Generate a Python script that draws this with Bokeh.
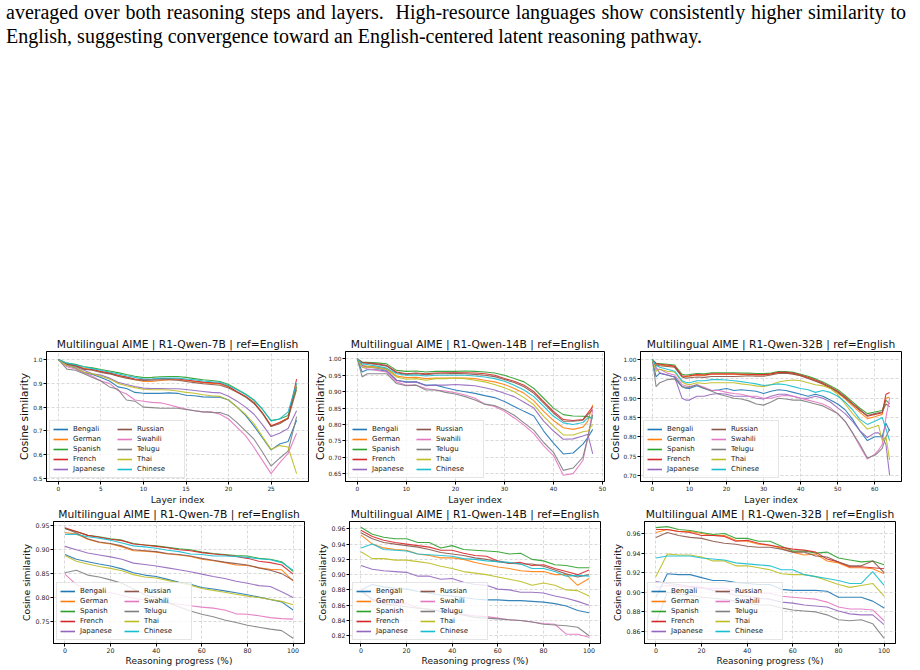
from bokeh.plotting import figure
from bokeh.layouts import column, row
from bokeh.models import (Div, Spacer, Legend, LegendItem, Range1d,
                          FixedTicker, PrintfTickFormatter)
from bokeh.embed import file_html
from bokeh.resources import INLINE

LANGS = ["Bengali", "German", "Spanish", "French", "Japanese",
         "Russian", "Swahili", "Telugu", "Thai", "Chinese"]
COLORS = ["#1f77b4", "#ff7f0e", "#2ca02c", "#d62728", "#9467bd",
          "#8c564b", "#e377c2", "#7f7f7f", "#bcbd22", "#17becf"]

# ---------------- R1-Qwen-7B, per layer ----------------
layers_7b = list(range(29))
layer_7b = {
    "Bengali":  [1.0, .975, .965, .945, .937, .925, .91, .885, .878, .862, .858, .858, .858, .86, .858, .85, .848, .843, .842, .842, .83, .8, .765, .72, .67, .62, .645, .655, .745],
    "German":   [1.0, .982, .976, .963, .958, .95, .944, .934, .925, .915, .908, .908, .912, .915, .915, .912, .908, .903, .9, .897, .885, .865, .845, .82, .775, .722, .735, .755, .895],
    "Spanish":  [1.0, .985, .98, .97, .965, .958, .952, .945, .937, .93, .924, .925, .928, .929, .929, .925, .92, .915, .912, .908, .895, .875, .855, .83, .79, .743, .75, .765, .885],
    "French":   [1.0, .98, .975, .96, .958, .95, .943, .933, .927, .918, .915, .917, .92, .92, .918, .914, .91, .905, .903, .9, .887, .865, .845, .818, .775, .72, .735, .752, .918],
    "Japanese": [1.0, .975, .97, .955, .94, .935, .922, .905, .895, .887, .88, .878, .878, .877, .877, .874, .87, .866, .862, .86, .846, .825, .8, .77, .725, .676, .69, .71, .785],
    "Russian":  [1.0, .98, .973, .96, .955, .946, .94, .93, .922, .915, .912, .913, .915, .915, .913, .908, .903, .898, .895, .892, .88, .862, .842, .815, .772, .718, .73, .752, .875],
    "Swahili":  [1.0, .97, .96, .945, .93, .91, .9, .87, .855, .83, .825, .82, .818, .81, .8, .792, .785, .78, .78, .77, .75, .715, .68, .63, .575, .52, .565, .605, .69],
    "Telugu":   [1.0, .96, .955, .94, .925, .91, .885, .875, .83, .825, .8, .798, .795, .795, .795, .79, .785, .78, .778, .777, .765, .735, .7, .665, .61, .552, .585, .615, .76],
    "Thai":     [1.0, .975, .967, .948, .94, .93, .918, .9, .89, .882, .875, .873, .873, .872, .868, .862, .858, .852, .848, .845, .83, .8, .77, .73, .675, .622, .638, .632, .52],
    "Chinese":  [1.0, .985, .978, .97, .962, .955, .948, .94, .932, .925, .918, .918, .922, .922, .922, .918, .915, .91, .907, .905, .89, .873, .853, .828, .79, .742, .75, .78, .9],
}

# ---------------- R1-Qwen-14B, per layer ----------------
layers_14b = [0, 1, 2, 4, 6, 8, 10, 12, 14, 16, 18, 20, 22, 24, 26, 28, 30,
              32, 34, 36, 38, 40, 42, 44, 46, 47, 48]
layer_14b = {
    "Bengali":  [1.0, .96, .967, .967, .962, .935, .93, .93, .92, .92, .912, .905, .9, .895, .888, .882, .87, .855, .84, .826, .78, .743, .71, .713, .74, .76, .785],
    "German":   [1.0, .98, .978, .975, .97, .948, .943, .944, .94, .942, .942, .942, .942, .94, .935, .93, .922, .91, .895, .872, .84, .812, .79, .785, .792, .81, .86],
    "Spanish":  [1.0, .99, .99, .988, .985, .965, .962, .963, .96, .962, .962, .962, .963, .962, .96, .957, .95, .94, .93, .91, .88, .85, .83, .826, .825, .824, .82],
    "French":   [1.0, .99, .988, .985, .98, .96, .955, .957, .955, .957, .958, .958, .958, .957, .955, .95, .94, .932, .92, .9, .87, .84, .815, .812, .815, .835, .855],
    "Japanese": [1.0, .98, .975, .972, .965, .935, .928, .93, .918, .92, .92, .922, .92, .918, .912, .905, .895, .885, .868, .85, .81, .78, .755, .756, .765, .77, .71],
    "Russian":  [1.0, .988, .987, .983, .978, .958, .953, .955, .952, .955, .955, .956, .955, .953, .95, .946, .937, .928, .915, .895, .865, .835, .81, .81, .813, .83, .845],
    "Swahili":  [1.0, .975, .97, .965, .96, .93, .92, .92, .91, .905, .902, .897, .89, .88, .862, .855, .84, .82, .798, .772, .735, .705, .645, .65, .69, .76, .845],
    "Telugu":   [1.0, .945, .955, .955, .955, .925, .918, .92, .905, .905, .898, .893, .885, .875, .862, .858, .845, .828, .805, .782, .745, .715, .66, .667, .7, .76, .83],
    "Thai":     [1.0, .975, .975, .973, .968, .945, .938, .94, .935, .94, .94, .942, .94, .935, .93, .922, .912, .9, .882, .86, .825, .795, .768, .768, .778, .78, .8],
    "Chinese":  [1.0, .985, .983, .978, .972, .955, .95, .951, .948, .95, .95, .95, .95, .948, .945, .94, .932, .92, .905, .885, .855, .825, .805, .8, .806, .82, .82],
}

# ---------------- R1-Qwen-32B, per layer ----------------
layers_32b = [0, 1, 2, 4, 6, 8, 9, 10, 12, 14, 16, 18, 20, 22, 24, 26, 28, 30,
              32, 34, 36, 38, 40, 42, 44, 46, 48, 50, 52, 54, 56, 58, 60, 61,
              62, 63, 64]
layer_32b = {
    "Bengali":  [1.0, .955, .965, .96, .955, .93, .926, .925, .932, .925, .92, .922, .925, .92, .922, .92, .918, .912, .918, .922, .92, .915, .91, .905, .91, .905, .895, .885, .87, .845, .815, .79, .8, .8, .8, .835, .815],
    "German":   [1.0, .988, .986, .984, .982, .957, .956, .957, .96, .959, .962, .962, .962, .962, .961, .961, .96, .96, .962, .966, .966, .963, .958, .952, .945, .936, .926, .914, .898, .88, .863, .847, .852, .855, .858, .9, .903],
    "Spanish":  [1.0, .99, .99, .988, .986, .962, .96, .961, .964, .963, .966, .966, .966, .966, .965, .965, .964, .964, .965, .969, .969, .967, .962, .957, .95, .942, .932, .922, .907, .89, .874, .86, .864, .866, .868, .895, .885],
    "French":   [1.0, .99, .988, .986, .983, .958, .957, .958, .961, .96, .963, .963, .963, .963, .962, .962, .961, .961, .963, .967, .967, .965, .96, .954, .947, .939, .929, .918, .903, .886, .87, .853, .858, .86, .862, .91, .915],
    "Japanese": [1.0, .98, .965, .96, .955, .9, .895, .895, .905, .905, .91, .912, .91, .905, .905, .905, .9, .898, .905, .91, .91, .905, .9, .9, .905, .9, .89, .875, .86, .84, .815, .798, .81, .81, .8, .78, .7],
    "Russian":  [1.0, .986, .984, .982, .98, .955, .952, .953, .955, .954, .956, .956, .956, .956, .957, .958, .957, .957, .96, .964, .965, .962, .958, .951, .944, .937, .927, .916, .9, .884, .868, .855, .86, .862, .864, .885, .878],
    "Swahili":  [1.0, .975, .975, .965, .96, .935, .932, .93, .935, .928, .92, .92, .915, .912, .91, .905, .905, .9, .9, .905, .907, .905, .9, .895, .89, .885, .875, .86, .84, .81, .775, .742, .755, .765, .78, .85, .9],
    "Telugu":   [1.0, .93, .94, .948, .95, .93, .928, .928, .935, .925, .918, .91, .905, .9, .898, .893, .885, .882, .89, .9, .898, .895, .895, .89, .885, .88, .87, .86, .84, .81, .78, .745, .752, .76, .77, .8, .82],
    "Thai":     [1.0, .97, .975, .97, .968, .942, .937, .935, .94, .938, .94, .94, .94, .94, .937, .935, .932, .93, .935, .942, .945, .947, .945, .94, .935, .932, .925, .91, .885, .86, .84, .82, .826, .83, .79, .8, .74],
    "Chinese":  [1.0, .985, .98, .975, .97, .945, .941, .94, .945, .945, .948, .948, .947, .945, .943, .94, .937, .933, .935, .937, .935, .93, .925, .922, .915, .92, .915, .905, .89, .87, .845, .832, .84, .845, .85, .82, .79],
}

# ---------------- reasoning progress (%) ----------------
progress = [0, 5, 10, 15, 20, 25, 30, 35, 40, 45, 50, 55, 60, 65, 70, 75, 80, 85, 90, 95, 100]

prog_7b = {
    "Bengali":  [.89, .88, .875, .87, .866, .86, .852, .847, .844, .838, .832, .828, .821, .818, .814, .81, .806, .801, .796, .791, .774],
    "German":   [.936, .933, .922, .915, .912, .906, .898, .897, .895, .891, .889, .886, .88, .877, .873, .868, .867, .862, .859, .858, .835],
    "Spanish":  [.944, .938, .93, .927, .923, .92, .913, .91, .908, .905, .902, .9, .895, .892, .89, .888, .887, .882, .88, .875, .855],
    "French":   [.946, .938, .93, .926, .922, .919, .912, .91, .907, .904, .9, .898, .894, .891, .889, .886, .882, .876, .873, .868, .849],
    "Japanese": [.907, .9, .893, .889, .885, .88, .872, .869, .866, .862, .858, .854, .849, .844, .84, .834, .83, .825, .823, .812, .8],
    "Russian":  [.945, .935, .923, .916, .913, .908, .9, .898, .896, .892, .89, .887, .882, .878, .874, .871, .868, .862, .857, .85, .836],
    "Swahili":  [.849, .827, .818, .814, .81, .805, .798, .795, .792, .789, .786, .783, .78, .778, .774, .766, .765, .762, .758, .756, .755],
    "Telugu":   [.852, .857, .847, .843, .837, .83, .818, .806, .8, .789, .781, .772, .765, .76, .753, .748, .742, .738, .734, .731, .715],
    "Thai":     [.888, .876, .87, .865, .861, .856, .848, .843, .841, .836, .831, .826, .819, .815, .811, .807, .803, .8, .796, .792, .785],
    "Chinese":  [.932, .932, .927, .924, .92, .914, .908, .906, .903, .899, .896, .891, .89, .887, .887, .886, .884, .881, .879, .873, .857],
}

prog_14b = {
    "Bengali":  [.88, .887, .884, .882, .881, .878, .876, .873, .872, .87, .868, .867, .867, .866, .866, .865, .864, .862, .859, .853, .85],
    "German":   [.952, .94, .935, .933, .932, .927, .925, .922, .922, .92, .916, .913, .91, .908, .905, .904, .904, .9, .9, .886, .895],
    "Spanish":  [.962, .953, .949, .947, .947, .942, .942, .935, .938, .933, .932, .931, .93, .927, .928, .92, .918, .913, .912, .909, .909],
    "French":   [.958, .95, .945, .942, .94, .938, .936, .932, .932, .928, .925, .924, .918, .915, .916, .912, .913, .908, .904, .9, .906],
    "Japanese": [.912, .907, .905, .904, .903, .898, .898, .894, .895, .89, .887, .886, .881, .88, .877, .877, .876, .872, .869, .865, .86],
    "Russian":  [.955, .947, .942, .94, .938, .936, .933, .929, .927, .925, .922, .92, .917, .915, .914, .914, .911, .906, .901, .897, .9],
    "Swahili":  [.882, .866, .865, .862, .862, .857, .854, .852, .851, .848, .846, .845, .843, .841, .84, .838, .836, .835, .822, .822, .818],
    "Telugu":   [.878, .868, .862, .86, .858, .856, .855, .852, .85, .847, .844, .843, .842, .841, .84, .838, .835, .834, .833, .831, .82],
    "Thai":     [.93, .921, .921, .919, .919, .917, .915, .911, .908, .904, .902, .9, .897, .894, .891, .886, .889, .886, .88, .879, .872],
    "Chinese":  [.935, .94, .933, .932, .931, .927, .926, .925, .924, .921, .92, .918, .917, .916, .914, .908, .908, .904, .898, .899, .898],
}

prog_32b = {
    "Bengali":  [.895, .919, .918, .918, .915, .912, .912, .91, .909, .908, .908, .903, .902, .902, .902, .901, .895, .895, .895, .891, .884],
    "German":   [.961, .964, .962, .962, .96, .958, .958, .953, .952, .949, .948, .945, .941, .938, .939, .932, .93, .925, .925, .924, .919],
    "Spanish":  [.966, .967, .964, .963, .961, .959, .96, .955, .955, .952, .952, .947, .942, .942, .94, .941, .935, .933, .931, .932, .928],
    "French":   [.964, .964, .962, .961, .958, .958, .957, .952, .953, .95, .948, .946, .944, .943, .941, .934, .931, .926, .926, .925, .924],
    "Japanese": [.911, .909, .908, .906, .905, .902, .9, .897, .896, .894, .893, .89, .889, .887, .886, .885, .881, .878, .877, .877, .867],
    "Russian":  [.956, .961, .958, .956, .955, .952, .95, .949, .947, .946, .946, .944, .941, .941, .937, .936, .931, .927, .927, .932, .92],
    "Swahili":  [.905, .907, .906, .905, .904, .904, .904, .901, .9, .899, .899, .896, .895, .894, .893, .89, .885, .883, .883, .882, .871],
    "Telugu":   [.869, .9, .898, .897, .895, .894, .893, .891, .889, .887, .887, .884, .882, .881, .88, .877, .872, .871, .872, .868, .853],
    "Thai":     [.916, .939, .938, .938, .936, .932, .932, .927, .927, .925, .923, .919, .918, .918, .916, .912, .908, .905, .907, .909, .896],
    "Chinese":  [.935, .937, .937, .937, .935, .934, .933, .93, .929, .928, .927, .923, .923, .918, .916, .914, .912, .909, .909, .921, .907],
}

TITLES = ["Multilingual AIME | R1-Qwen-7B | ref=English",
          "Multilingual AIME | R1-Qwen-14B | ref=English",
          "Multilingual AIME | R1-Qwen-32B | ref=English"]
Y_LABEL = "Cosine similarity"
X_LABEL_LAYER = "Layer index"
X_LABEL_PROG = "Reasoning progress (%)"

FONT = "DejaVu Sans"
LEFT = 52      # left border reserved for the y axis of every panel
BOTTOM = 30    # bottom border reserved for the x axis of every panel
TOP = 19       # top border holding the title


def make_panel(title, xs, series, xr, yr, xticks, yticks, yfmt, xlabel,
               frame_w, frame_h, right, margin_left,
               tick_fs, ylab_fs, xlab_fs):
    p = figure(width=LEFT + frame_w + right, height=TOP + frame_h + BOTTOM,
               x_range=Range1d(*xr), y_range=Range1d(*yr),
               output_backend="svg", toolbar_location=None,
               min_border_left=LEFT, min_border_right=right,
               min_border_top=TOP, min_border_bottom=BOTTOM,
               background_fill_color="white", border_fill_color=None,
               margin=(0, 0, 0, margin_left))
    p.title.text = title
    p.title.align = "center"
    p.title.text_font = FONT
    p.title.text_font_size = "10.7px"
    p.title.text_font_style = "normal"
    p.title.text_color = "#111111"
    p.title.standoff = 2
    p.outline_line_color = "black"
    p.outline_line_width = 1
    p.outline_line_alpha = 1
    for ax in (p.xaxis[0], p.yaxis[0]):
        ax.axis_line_color = "black"
        ax.major_tick_line_color = "black"
        ax.major_tick_out = 3
        ax.major_tick_in = 0
        ax.minor_tick_line_color = None
        ax.major_label_text_font = FONT
        ax.major_label_text_font_size = tick_fs
        ax.major_label_text_color = "#222222"
        ax.major_label_standoff = 1
        ax.axis_label_text_font = FONT
        ax.axis_label_text_font_style = "normal"
        ax.axis_label_text_color = "#111111"
        ax.axis_label_standoff = 0
    p.yaxis[0].axis_label_text_font_size = ylab_fs
    p.xaxis[0].axis_label_text_font_size = xlab_fs
    p.xaxis[0].ticker = FixedTicker(ticks=xticks)
    p.yaxis[0].ticker = FixedTicker(ticks=yticks)
    p.yaxis[0].formatter = PrintfTickFormatter(format=yfmt)
    p.xaxis[0].axis_label = xlabel
    p.yaxis[0].axis_label = Y_LABEL
    p.grid.grid_line_color = "#d0d0d0"
    p.grid.grid_line_dash = "3 2"
    p.grid.grid_line_alpha = 0.8
    p.xgrid.ticker = FixedTicker(ticks=xticks)
    p.ygrid.ticker = FixedTicker(ticks=yticks)

    # legend swatches: same colour, a little thicker, first/last real point
    # pair placed outside the visible x range so only the legend shows them
    off_x = [xr[0] - 1000.0, xr[0] - 999.0]
    items = []
    for lang, col in zip(LANGS, COLORS):
        p.line(xs, series[lang], line_color=col, line_width=1.1, line_alpha=0.9)
        swatch = p.line(x=off_x, y=[series[lang][0], series[lang][0]],
                        line_color=col, line_width=1.6, line_alpha=1.0)
        items.append(LegendItem(label=lang, renderers=[swatch]))
    leg = Legend(items=items, location="bottom_left", ncols=2,
                 label_text_font=FONT, label_text_font_size="7px",
                 label_text_color="#222222",
                 glyph_width=15, glyph_height=10, label_height=10,
                 label_width=44, label_standoff=5, spacing=0,
                 padding=3, margin=3,
                 border_line_color="#cccccc", border_line_width=1,
                 background_fill_color="white", background_fill_alpha=0.8)
    p.add_layout(leg)
    return p


# top row: frames at x 46-308, 345-604, 640-901 ; y 351-481
f1 = make_panel(TITLES[0], layers_7b, layer_7b, (-1.4, 29.4), (0.487, 1.034),
                [0, 5, 10, 15, 20, 25], [0.5, 0.6, 0.7, 0.8, 0.9, 1.0], "%.1f",
                X_LABEL_LAYER, 262, 130, 4, -6, "5.8px", "10.5px", "9.2px")
f2 = make_panel(TITLES[1], layers_14b, layer_14b, (-2.4, 50.4), (0.626, 1.0227),
                [0, 10, 20, 30, 40, 50],
                [0.65, 0.70, 0.75, 0.80, 0.85, 0.90, 0.95, 1.00], "%.2f",
                X_LABEL_LAYER, 259, 130, 4, -19, "5.8px", "10.5px", "9.2px")
f3 = make_panel(TITLES[2], layers_32b, layer_32b, (-3.2, 67.2), (0.684, 1.021),
                [0, 10, 20, 30, 40, 50, 60],
                [0.70, 0.75, 0.80, 0.85, 0.90, 0.95, 1.00], "%.2f",
                X_LABEL_LAYER, 261, 130, 15, -20, "5.8px", "10.5px", "9.2px")

# bottom row: frames at x 53-304, 349-600, 644-895 ; y 521-643
f4 = make_panel(TITLES[0], progress, prog_7b, (-5, 105), (0.704, 0.959),
                [0, 20, 40, 60, 80, 100], [0.75, 0.80, 0.85, 0.90, 0.95], "%.2f",
                X_LABEL_PROG, 251, 122, 4, 1, "6.3px", "9.3px", "9px")
f5 = make_panel(TITLES[1], progress, prog_14b, (-5, 105), (0.8098, 0.9696),
                [0, 20, 40, 60, 80, 100],
                [0.82, 0.84, 0.86, 0.88, 0.90, 0.92, 0.94, 0.96], "%.2f",
                X_LABEL_PROG, 251, 122, 4, -11, "6.3px", "9.3px", "9px")
f6 = make_panel(TITLES[2], progress, prog_32b, (-5, 105), (0.8478, 0.9722),
                [0, 20, 40, 60, 80, 100],
                [0.86, 0.88, 0.90, 0.92, 0.94, 0.96], "%.2f",
                X_LABEL_PROG, 251, 122, 20, -12, "6.3px", "9.3px", "9px")

CAPTION_1 = ("averaged over both reasoning steps and layers.&nbsp; High-resource "
             "languages show consistently higher similarity to")
CAPTION_2 = ("English, suggesting convergence toward an English-centered latent "
             "reasoning pathway.")

caption = Div(
    text=('<div style="font-family:\'Liberation Serif\',serif;font-size:20px;'
          'line-height:24px;color:#000;padding-left:6px;width:906px;">'
          '<div style="text-align:justify;text-align-last:justify;white-space:nowrap;">'
          + CAPTION_1 + '</div>'
          '<div>' + CAPTION_2 + '</div></div>'),
    width=920, height=60, margin=0)

# row 1 figure: top at 332 (frame top 351), height 19+130+30 = 179 -> ends 511
# row 2 figure: top at 502 (frame top 521) -> margin-top -9 (transparent borders)
layout = column(
    caption,
    Spacer(width=920, height=272, margin=0),
    row(f1, f2, f3, margin=0, spacing=0),
    row(f4, f5, f6, margin=(-9, 0, 0, 0), spacing=0),
    margin=0, spacing=0)

open("out.html", "w").write(file_html(layout, INLINE))
